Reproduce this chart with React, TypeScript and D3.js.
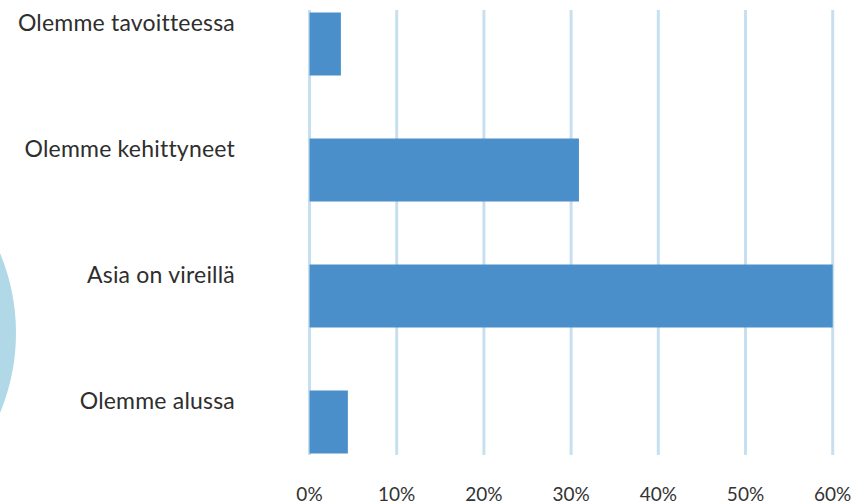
import React from "react";
import * as d3 from "d3";

const categories = ["Olemme tavoitteessa", "Olemme kehittyneet", "Asia on vireillä", "Olemme alussa"];
const values = [3.6, 30.9, 60, 4.4];
const ticks = [0, 10, 20, 30, 40, 50, 60];

export default function App() {
  const W = 860, H = 504;
  const x = d3.scaleLinear().domain([0, 60]).range([309.5, 832.7]);
  const y = d3.scaleBand<string>().domain(categories).range([-19, 485]).paddingInner(0.5).paddingOuter(0.25);
  return (
    <svg width={W} height={H} style={{ position: "absolute", left: 0, top: 0 }}>
      <circle cx={-192} cy={333} r={208} fill="#b1d8e7" />
      {ticks.map((t) => (
        <line key={t} x1={x(t)} x2={x(t)} y1={10} y2={455} stroke="#c6e0f1" strokeWidth={3} />
      ))}
      {categories.map((c, i) => (
        <rect key={c} x={x(0)} y={y(c)!} width={x(values[i]) - x(0)} height={y.bandwidth()} fill="#4a8fc9" />
      ))}
      {categories.map((c) => (
        <text key={c} x={235} y={y(c)! + y.bandwidth() / 2 - 13} textAnchor="end" fontFamily="Lato" fontWeight={400} fontSize={23} fill="#2e2e2e" style={{ letterSpacing: "0.2px" }}>
          {c}
        </text>
      ))}
      {ticks.map((t) => (
        <text key={t} x={x(t)} y={501} textAnchor="middle" fontFamily="Lato" fontWeight={400} fontSize={19} fill="#333">
          {t}%
        </text>
      ))}
    </svg>
  );
}
